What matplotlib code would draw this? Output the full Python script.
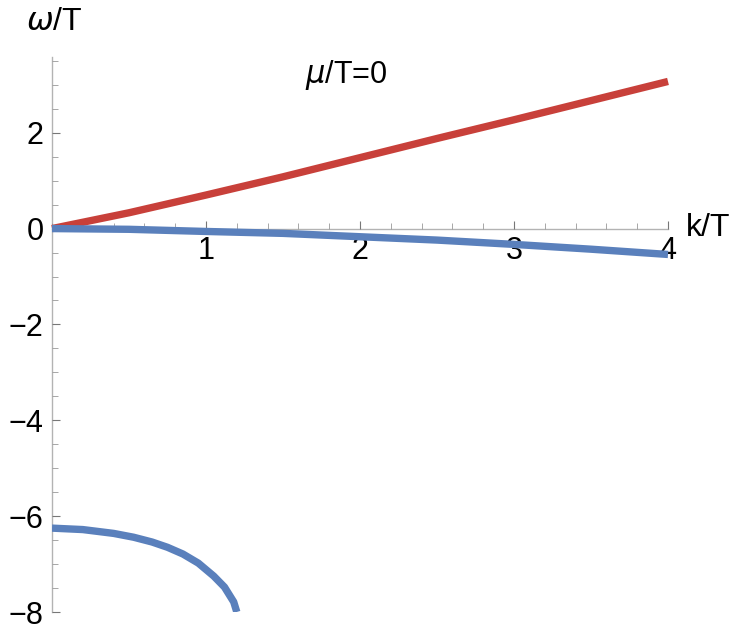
import numpy as np
import matplotlib.pyplot as plt
from matplotlib.ticker import MultipleLocator

plt.rcParams['font.family'] = ['Liberation Sans', 'DejaVu Sans']

# data
k_red = [0.0, 0.5, 1.0, 1.5, 2.0, 2.5, 3.0, 3.5, 4.0]
w_red = [0.0, 0.33, 0.70, 1.08, 1.48, 1.88, 2.27, 2.67, 3.07]

k_blue = [0.0, 0.5, 1.0, 1.5, 2.0, 2.5, 3.0, 3.5, 4.0]
w_blue = [0.0, -0.015, -0.06, -0.10, -0.17, -0.24, -0.33, -0.43, -0.54]

k_low = [0.0, 0.2, 0.4, 0.53, 0.65, 0.75, 0.85, 0.95, 1.05, 1.12, 1.18, 1.20]
w_low = [-6.25, -6.28, -6.36, -6.44, -6.54, -6.65, -6.79, -6.98, -7.25, -7.48, -7.79, -8.0]

red = '#C8403A'
blue = '#5A80BC'
grey = '#b3b3b3'

fig = plt.figure(figsize=(7.5, 6.34), dpi=100)
ax = fig.add_axes([52 / 750, 1 - 612 / 634, (668 - 52) / 750, (612 - 57) / 634])

lw = 5.3
ax.plot(k_red, w_red, color=red, lw=lw, solid_capstyle='butt', zorder=3, clip_on=False)
ax.plot(k_blue, w_blue, color=blue, lw=lw, solid_capstyle='butt', zorder=3, clip_on=False)
ax.plot(k_low, w_low, color=blue, lw=lw, solid_capstyle='butt', zorder=3)

ax.set_xlim(0, 4)
ax.set_ylim(-8, 3.58)

for s in ['top', 'right']:
    ax.spines[s].set_visible(False)
ax.spines['bottom'].set_position(('data', 0))
ax.spines['left'].set_position(('data', 0))
for s in ['bottom', 'left']:
    ax.spines[s].set_color(grey)
    ax.spines[s].set_linewidth(1.0)
    ax.spines[s].set_zorder(1)

ax.xaxis.set_minor_locator(MultipleLocator(0.2))
ax.yaxis.set_minor_locator(MultipleLocator(0.5))

ax.set_xticks([1, 2, 3, 4])
ax.set_xticklabels(['1', '2', '3', '4'])
ax.set_yticks([-8, -6, -4, -2, 0, 2])
ax.set_yticklabels(['\u22128', '\u22126', '\u22124', '\u22122', '0', '2'])

ax.tick_params(axis='x', which='major', direction='in', length=6, width=0.8, color='#777777',
               labelsize=22, pad=5)
ax.tick_params(axis='x', which='minor', direction='in', length=4, width=0.6, color='#999999')
ax.tick_params(axis='y', which='major', direction='in', length=6, width=0.8, color='#777777',
               labelsize=22, pad=6)
ax.tick_params(axis='y', which='minor', direction='in', length=4, width=0.6, color='#999999')

fig.text(26 / 750, 1 - 22 / 634, r'$\omega$/T', fontsize=23, va='center', ha='left')
fig.text(686 / 750, 1 - 228 / 634, 'k/T', fontsize=23, va='center', ha='left')
fig.text(346 / 750, 1 - 75 / 634, r'$\mu$/T=0', fontsize=22, va='center', ha='center')

fig.savefig('out.png', dpi=100)
